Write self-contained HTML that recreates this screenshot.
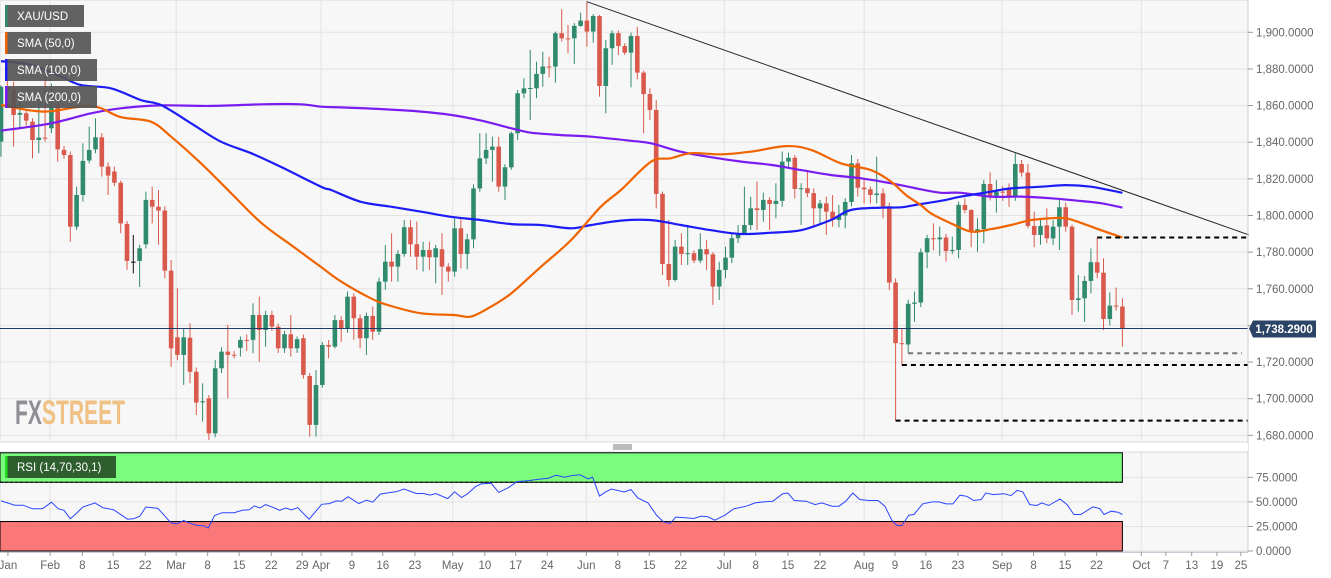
<!DOCTYPE html>
<html><head><meta charset="utf-8"><style>
html,body{margin:0;padding:0;background:#fff;}
svg{display:block;font-family:"Liberation Sans",sans-serif;}
</style></head><body>
<svg id="c" width="1331" height="578" viewBox="0 0 1331 578" xmlns="http://www.w3.org/2000/svg">
<rect x="0" y="0" width="1331" height="578" fill="#ffffff"/>
<rect x="0" y="0" width="1248" height="442" fill="#f7f7f7" stroke="#d5d9e3"/>
<rect x="0" y="452" width="1248" height="100" fill="#f7f7f7" stroke="#d5d9e3"/>
<g id="grid"></g>
<g id="rsiZones"></g>
<text x="15" y="424" font-family="'Liberation Sans Narrow','Liberation Sans',sans-serif" font-weight="bold" font-size="34" textLength="110" lengthAdjust="spacingAndGlyphs"><tspan fill="#8e9096">FX</tspan><tspan fill="#f0c185">STREET</tspan></text>
<g id="marks"></g>
<g id="overlay"></g>
<g id="axes"></g>
<g id="legend"></g>
</svg>
<script>
// ---- data ----
const opens=[1840.3,1870,1868.9,1855,1855.8,1851.2,1841.2,1842.5,1847.6,1859.4,1835.8,1833,1793.9,1811.2,1830,1836.1,1842.7,1826.7,1824,1817.9,1795.4,1774.8,1775.2,1784.3,1808.5,1804.8,1802.7,1769.9,1733.5,1723.9,1733.3,1714.7,1698,1700.2,1681.1,1716.6,1725.7,1724,1727.8,1732.1,1732.1,1745.7,1737.5,1745.7,1739.3,1727.5,1735.2,1727.5,1733,1712.4,1685.7,1707.5,1729.3,1728.4,1742.9,1738.4,1755.7,1743.9,1733,1745.2,1736.6,1763.9,1774.8,1772.1,1779,1793.6,1784.3,1777.5,1781.2,1777.2,1781.6,1772.1,1769.4,1793,1779,1787,1814.8,1831.2,1835.8,1837.6,1815.8,1826.3,1844.9,1866.7,1869.4,1869.4,1877.3,1881.3,1881.3,1899.5,1896.7,1896.7,1903.5,1906.4,1900.4,1908.9,1870.7,1891.3,1899.5,1892.5,1888.9,1898,1878,1866.3,1857.6,1811.8,1773.5,1764.8,1783,1779,1779.4,1775.4,1781.6,1778.8,1761.2,1770.3,1777,1787.6,1790.3,1794.8,1803.9,1803,1808.5,1806.3,1808,1829.4,1831.5,1814.5,1814.9,1812.2,1803.9,1806.6,1802.1,1797.6,1800,1807.4,1828.5,1815.2,1814.3,1811.2,1812.1,1805,1763.4,1730.3,1729.6,1751.8,1752.5,1779.9,1787.6,1787,1788,1780.6,1781.2,1805.8,1803,1791.2,1792.5,1817.2,1810.7,1813,1814.3,1810.3,1828.1,1823.4,1794.3,1789.4,1794.6,1787.5,1793.9,1804.5,1793.9,1753.9,1754.8,1764.3,1774.5,1768.8,1743.5,1750.8,1750.3];
const highs=[1871,1875,1873.1,1864.9,1857,1853,1864,1875.8,1872,1861,1838,1835,1815.8,1839.4,1848.5,1853,1845,1829,1826.7,1819,1797,1789.4,1784,1813,1815.8,1813.9,1805,1775.7,1760.3,1738.4,1741.2,1717,1708.4,1702,1721.1,1728,1740.3,1726,1734,1735,1752.1,1755.7,1748,1748,1741,1737,1745.7,1734,1735,1714,1715.7,1731,1732,1745.7,1745,1758.5,1757.5,1746,1747,1750.3,1766,1783.9,1790.3,1781,1797.6,1797.6,1796.7,1785.7,1785.7,1784,1790.3,1774,1798.5,1798.5,1790,1817,1844.9,1844.9,1843,1843,1828,1845.8,1868.5,1874.9,1890.4,1884,1889.4,1886.7,1900.4,1912.6,1904,1905,1910.7,1916.7,1910,1909.5,1895.8,1901,1901,1894,1899.8,1903,1879,1869.4,1863,1813,1797.6,1786.6,1790.3,1794.8,1781,1790.3,1786.6,1780,1774.8,1783,1790,1794.8,1815.8,1810.3,1818.5,1812.5,1810,1817.6,1834.9,1834.3,1833,1817.6,1824.9,1814.8,1808.5,1810.3,1811.2,1805.7,1809.4,1833,1830.8,1819.4,1815.8,1832.1,1814.8,1807,1765.7,1738.4,1754,1758.5,1782,1789.4,1795.7,1794,1790,1788.5,1807.6,1809.4,1803.5,1798.5,1819.4,1823.6,1819.4,1816,1817.6,1834,1830.3,1828.1,1802.1,1797.9,1803.9,1797.6,1808.8,1807,1795,1767.5,1767,1782,1788,1776.6,1758,1760.7,1754.8];
const lows=[1832.1,1860,1837.6,1847.6,1849,1831.2,1834,1840.3,1845,1829.4,1831,1785.7,1792.1,1807.6,1828.5,1834,1821.2,1811.2,1816,1790.3,1770.3,1768.4,1761,1782,1795.7,1784,1765.7,1717.5,1721,1707.5,1708.4,1691.1,1687.5,1677.5,1679,1714,1700.2,1722,1723,1726,1724.8,1720.2,1728.4,1737,1725,1725,1723,1725,1711,1679.3,1679.3,1706,1722,1727.5,1731,1736,1732.1,1727.5,1723.9,1732.1,1734.8,1759.4,1763.9,1763.9,1777.5,1777.5,1770.3,1769.4,1770.3,1763,1756.6,1763.9,1766.6,1771.2,1770.6,1782.1,1813,1828,1818.5,1813,1808.5,1825,1841.2,1864,1852.1,1864,1870.3,1875.4,1872.5,1895,1888.5,1882.7,1903,1892.2,1894.4,1864.9,1855.8,1882.2,1887.6,1887.6,1870,1874.3,1844.9,1852.1,1803.9,1767.5,1761.2,1763.9,1773,1773,1774,1774,1770.3,1751.2,1753.9,1765.7,1774,1785,1790,1792.1,1792.1,1796.6,1792.1,1798.5,1804.8,1826,1809.4,1794.8,1810,1793.9,1794.8,1789.4,1793.9,1793.6,1793,1805,1810.3,1806.6,1806.6,1806.6,1798.5,1759.4,1688,1718.4,1724.8,1742,1750,1771.2,1781,1778,1774.8,1779,1776.6,1801.2,1782.7,1780.2,1784.8,1808.2,1801.6,1808,1804.8,1808,1821.2,1793,1782.7,1784,1785,1784,1781.2,1791.2,1745.7,1747.5,1742,1757.5,1765.7,1737.5,1740,1748,1728.4];
const closes=[1870.3,1868,1854.9,1856,1851.8,1841.2,1842.5,1842,1859.4,1836.1,1833,1793.9,1811.2,1829.8,1835.8,1842.7,1826.7,1821.8,1817.9,1795.7,1775.2,1774.8,1782.1,1808.5,1804.8,1802.7,1769.9,1727.5,1723.9,1733.5,1714.7,1697.9,1698.6,1681.1,1716.6,1725.7,1723.9,1723.8,1732.1,1731.9,1745.7,1737.5,1745.7,1739.3,1727.5,1735.2,1727.5,1732.5,1713,1685.7,1707.5,1729.3,1728.4,1742.9,1738.4,1755.7,1743.9,1733,1745.2,1736.6,1763.9,1774.8,1772.1,1779,1793.6,1784.3,1777.5,1781.2,1777.2,1782.1,1772.1,1769.4,1793,1779,1787,1814.8,1831.2,1835.8,1837.6,1815.8,1826.3,1844.9,1866.7,1869.4,1869.6,1877.3,1881.3,1880.8,1899.5,1896.7,1896.5,1903.5,1906.4,1900.4,1908.9,1870.7,1891.3,1899.5,1892.5,1888.9,1898,1878,1866.3,1857.6,1811.8,1773.5,1764.8,1783,1779,1779.4,1775.4,1781.6,1778.8,1761.2,1770.3,1777,1787.6,1790.3,1794.8,1803.9,1803,1808.5,1806.3,1808,1829.4,1831.5,1814.5,1814.9,1812.2,1803.9,1806.6,1802.1,1797.6,1800,1807.4,1828.5,1815.2,1814.3,1811.2,1812,1805,1763.4,1730.3,1729.8,1751.8,1752.5,1779.9,1787.6,1787,1788,1780.6,1781.2,1805.8,1803,1791.2,1792.5,1817.2,1810.7,1813,1812.5,1810.3,1828.1,1823.4,1794.3,1789.4,1794.3,1787.5,1793.9,1804.5,1793.9,1753.9,1754.8,1764.3,1774.5,1768.8,1743.5,1750.8,1750.3,1738.3];
const sma50Idx=[0,6.8,14.3,19,23.8,27,31.7,36.5,41.3,46,50.8,54,58.7,61.9,66.7,71.9,74.6,77.8,81,85.7,90.5,95.2,98.4,103.2,106.3,109.5,114.3,119,124.6,128.6,133.3,138.1,141.3,143.7,146,147.6,150.8,154,157.1,160.3,163.5,166.7,169,171.4,174.6,178];
const sma50Val=[1860.3,1856.7,1859.8,1853.7,1851.2,1843,1828.6,1812.3,1796,1784,1771.9,1763.9,1754.8,1750.6,1746.6,1745.7,1744.8,1750.3,1757.5,1772,1786.6,1804.8,1813.9,1829.4,1831.2,1834,1833.4,1834.8,1837.9,1835.8,1828.5,1824.8,1818.4,1811,1805.7,1801.2,1795.7,1791.2,1792.5,1794.8,1797.5,1798.5,1798.5,1796,1792,1788];
const sma100Idx=[0,4.8,9.5,12.7,17.5,22.2,25.4,30.2,34.9,39.7,44.4,50.8,52.4,57.1,61.9,66.7,71.4,76.2,81,85.7,90.5,93.7,98.4,103.2,107.9,112.7,117.5,122.2,127,131.7,134.9,139.7,142.9,146,149.2,152.4,157.1,160.3,165.1,169,173,178];
const sma100Val=[1884.3,1882.2,1875.8,1871.2,1869.4,1863,1860.3,1850.3,1840.3,1834,1826.6,1815.7,1813.9,1807.5,1804.8,1802.1,1799.3,1797.5,1795.3,1794.8,1793,1794.8,1797.2,1797.5,1794.8,1792,1789.9,1790.6,1792,1797.5,1803,1804.3,1804.5,1806.3,1808,1810.3,1813,1814.8,1815.7,1816.6,1815.7,1812.4];
const sma200Idx=[0,7.9,14.3,19,25.4,33.3,41.3,47.6,50.8,54,60.3,66.7,71.4,76.2,81,84.1,88.9,93.7,100,103.2,107.9,112.7,117.5,122.2,127,131.7,136.5,141.3,146,149.2,152.4,157.1,161.9,166.7,171.4,174.6,178];
const sma200Val=[1846.3,1850.3,1855.8,1858.5,1860.1,1859.8,1860.7,1860.7,1859.4,1859,1858.1,1856.7,1854.9,1851.8,1847.6,1845.2,1843.9,1843,1840.8,1839.4,1834.8,1831.8,1829.4,1827.6,1824.8,1822.1,1820.3,1817.6,1814.3,1812.4,1812.4,1810.3,1810.3,1809.4,1807.9,1806.7,1804.3];
const rsiIdx=[0,2.2,3.5,5,6.6,8,9.1,10,11,11.9,13,14.9,16.2,17.9,20.1,21,22,23,24.9,27,27.9,29,30,31.2,32,32.9,33.9,35.1,37,38.3,39.4,40.2,41.1,42,43.3,44.2,45.2,46.1,47.1,48.9,50.9,52.1,53.2,54.1,55.1,56.8,58,59,60.2,61.5,62.7,64,65.9,67.1,68.1,69,70.9,72,73.1,74,75.3,76.2,77.8,79,80.6,81.9,83.8,85.3,86.9,88.1,89.4,90.7,91.9,93.2,93.9,95,96,96.9,98.9,100,101.1,102.7,104.1,105.2,106.2,107.1,108.6,110,111.1,112.2,113.3,114.9,116.3,118.3,119.7,121,122.5,124.1,124.9,125.9,127.8,129.2,130.3,131.9,133,134.1,135.2,136.3,137.8,139.2,140.3,141.4,142.2,143,144.1,144.9,146.3,147.8,148.9,150,151.1,152.2,153.3,154.4,155.6,156.3,157.5,159.2,160.3,161.3,162.2,163.3,164.4,165.2,166.3,168.1,169.2,170.3,171.4,173.3,174.4,175.1,176.2,177.3,178];
const rsiVal=[51,46.6,46.6,43,43,49.7,43,41.4,32.8,38,44.8,49,44,42,32.4,32.8,35.2,44.8,43.4,28.6,27.6,31,28.3,25.9,25.9,23.4,36.2,39,39,41.4,42,45.9,43.8,47.2,44.1,41.4,43.8,42,44.1,32.4,47.6,48.3,51,50.7,55.3,48.3,51.7,49.7,57.9,59.3,60.3,63.1,58.6,58.6,56.9,58.6,53.4,60.3,54.5,57.9,65.5,68.3,69,59.7,64.8,70.7,71.7,73.1,74.1,77.2,75.2,76.9,77.6,73.4,75.2,55.9,60.3,63.1,60.1,62.5,54,49,36.1,29.4,28,34.5,33.8,33.1,35.5,34.8,31.4,36.5,42.9,45.6,49,50,50.7,58.4,59.1,51.4,50.7,47.3,49,45.6,45.6,50.7,59.1,52.4,51.4,51.4,45.6,31.4,26,26,36.5,37.2,48,50,50,48,48,56.8,55.7,51.4,52.4,59.1,57.4,58.4,56.4,61.8,60.1,47.3,46.3,49,46.3,53,47.3,37.2,37.2,44.9,43.2,37.2,40.5,39.5,37.2];
const priceTicks=[1680,1700,1720,1740,1760,1780,1800,1820,1840,1860,1880,1900];
const rsiTicks=[0,25,50,75];
const xLabels=["Jan","Feb","8","15","22","Mar","8","15","22","29","Apr","9","16","23","May","10","17","24","Jun","8","15","22","Jul","8","15","22","Aug","9","16","23","Sep","8","15","22","Oct","7","13","19","25"];
const xLabelIdx=[1.1,7.8,12.9,17.8,22.9,27.8,32.8,37.8,42.9,47.8,50.8,55.7,60.6,65.7,71.7,76.8,81.7,86.7,92.9,97.9,102.9,107.9,114.8,119.8,124.9,130,137,141.9,146.8,151.9,158.9,163.9,168.9,173.9,181,184.9,189,193,196.8];
const monthIdx=[7.8,27.8,50.8,71.7,92.9,114.8,137,158.9,181];
const lastPrice=1738.29;
const trendIdx=[93,198.1], trendVal=[1916.7,1789.4];
const levelVal=[1788,1724.8,1718.4,1688];
const levelStart=[174,144,143,142];

// ---- scales ----
const NS="http://www.w3.org/2000/svg";
const xi=i=>1+i*6.3;
const yp=p=>32.3+(1900-p)*1.832;
const yr=v=>551-v*0.982;
function mk(tag,attrs,parent){const e=document.createElementNS(NS,tag);for(const k in attrs)e.setAttribute(k,attrs[k]);parent.appendChild(e);return e;}
const G=id=>document.getElementById(id);
const grid=G('grid'),marks=G('marks'),ov=G('overlay'),axes=G('axes'),leg=G('legend'),zones=G('rsiZones');

// grid
priceTicks.forEach(p=>{const l=mk('line',{x1:0,x2:1248,y1:yp(p),y2:yp(p),stroke:'#e3e3e3'},grid);

});
rsiTicks.forEach(v=>{const l=mk('line',{x1:0,x2:1248,y1:yr(v),y2:yr(v),stroke:'#e3e3e3'},grid);

});
monthIdx.forEach(i=>{[[0,442],[452,552]].forEach(r=>{const l=mk('line',{x1:xi(i),x2:xi(i),y1:r[0],y2:r[1],stroke:'#e3e3e3'},grid);

});});

// rsi zones
const zEnd=xi(closes.length-1);
let z=mk('rect',{x:0,y:yr(100),width:zEnd,height:yr(70)-yr(100),fill:'#7cfc7c',stroke:'#000','stroke-width':1},zones);


z=mk('rect',{x:0,y:yr(30),width:zEnd,height:yr(0)-yr(30),fill:'#fa7878',stroke:'#000','stroke-width':1},zones);


[70,30].forEach(v=>{const l=mk('line',{x1:0,x2:zEnd,y1:yr(v),y2:yr(v),stroke:'#000','stroke-dasharray':'3,2'},zones);

});

// SMA lines (smoothed Catmull-Rom)
function smooth(pts){let d='M'+pts[0][0].toFixed(1)+' '+pts[0][1].toFixed(1);
 for(let k=0;k<pts.length-1;k++){const p0=pts[k-1]||pts[k],p1=pts[k],p2=pts[k+1],p3=pts[k+2]||p2;
  const c1x=p1[0]+(p2[0]-p0[0])/6,c1y=p1[1]+(p2[1]-p0[1])/6,c2x=p2[0]-(p3[0]-p1[0])/6,c2y=p2[1]-(p3[1]-p1[1])/6;
  d+=` C${c1x.toFixed(1)} ${c1y.toFixed(1)} ${c2x.toFixed(1)} ${c2y.toFixed(1)} ${p2[0].toFixed(1)} ${p2[1].toFixed(1)}`;}
 return d;}
function sline(idx,val,col,name,w){const pts=idx.map((i,k)=>[xi(i),yp(val[k])]);
const p=mk('path',{d:smooth(pts),fill:'none',stroke:col,'stroke-width':w,'stroke-linejoin':'round'},ov);

}
sline(sma200Idx,sma200Val,'#7a1cf0','sma-200-line',2.2);
sline(sma100Idx,sma100Val,'#1c1cf5','sma-100-line',2.2);
sline(sma50Idx,sma50Val,'#f06400','sma-50-line',2.2);

// candles
for(let i=0;i<closes.length;i++){
 const o=opens[i],c=closes[i],h=highs[i],l=lows[i];
 const col=c>o?'#2f8a6e':(c<o?'#d95a4c':'#111');
 const g=mk('g',{},marks);
 
 
 const x=xi(i);
 mk('line',{x1:x,x2:x,y1:yp(h),y2:yp(l),stroke:col,'stroke-width':1},g);
 const top=yp(Math.max(o,c)),bh=Math.max(1,Math.abs(yp(o)-yp(c)));
 mk('rect',{x:x-2.3,y:top,width:4.6,height:bh,fill:col},g);
}

// trendline & levels
let t=mk('line',{x1:xi(trendIdx[0]),y1:yp(trendVal[0]),x2:xi(trendIdx[1]),y2:yp(trendVal[1]),stroke:'#222','stroke-width':1},ov);


levelVal.forEach((v,k)=>{const col=k==1?'#777':'#000';
const l=mk('line',{x1:xi(levelStart[k]),x2:k==1?1242:1248,y1:yp(v),y2:yp(v),stroke:col,'stroke-width':2,'stroke-dasharray':'5,4'},ov);

});
t=mk('line',{x1:xi(174),x2:xi(174),y1:yp(1788),y2:yp(highs[174]),stroke:'#000'},ov);


t=mk('line',{x1:0,x2:1248,y1:yp(lastPrice),y2:yp(lastPrice),stroke:'#1f3c66','stroke-width':1},ov);



// rsi line
const rp=rsiIdx.map((i,k)=>xi(i).toFixed(1)+','+yr(rsiVal[k]).toFixed(1)).join(' ');
t=mk('polyline',{points:rp,fill:'none',stroke:'#2a45ff','stroke-width':1},ov);



// axes
mk('line',{x1:1248,x2:1248,y1:0,y2:552,stroke:'#c8ccd6'},axes);
mk('line',{x1:0,x2:1248,y1:552.5,y2:552.5,stroke:'#c8ccd6'},axes);
priceTicks.forEach(p=>{mk('line',{x1:1248,x2:1253,y1:yp(p),y2:yp(p),stroke:'#999'},axes);
const tx=mk('text',{x:1256,y:yp(p)+4,'font-size':11.5,fill:'#666'},axes);tx.textContent=p.toLocaleString('en-US')+'.0000';

});
rsiTicks.forEach(v=>{mk('line',{x1:1248,x2:1253,y1:yr(v),y2:yr(v),stroke:'#999'},axes);
const tx=mk('text',{x:1256,y:yr(v)+4,'font-size':11.5,fill:'#666'},axes);tx.textContent=v.toFixed(4);

});
xLabels.forEach((s,k)=>{const x=xi(xLabelIdx[k]);
mk('line',{x1:x,x2:x,y1:552,y2:556,stroke:'#999'},axes);
const tx=mk('text',{x:x,y:569,'font-size':11.5,fill:'#666','text-anchor':'middle'},axes);tx.textContent=s;

});
const ly=yp(lastPrice);
let pl=mk('path',{d:`M1249 ${ly} L1253 ${ly-8} L1316 ${ly-8} L1316 ${ly+9} L1253 ${ly+9} Z`,fill:'#2c4466'},axes);


pl=mk('text',{x:1284,y:ly+4.5,'font-size':11.5,'font-weight':'bold',fill:'#fff','text-anchor':'middle'},axes);pl.textContent='1,738.2900';


mk('rect',{x:0,y:443,width:1248,height:8,fill:'#fff'},axes);
[445,447,449].forEach(y=>mk('line',{x1:613,x2:632,y1:y,y2:y,stroke:'#777'},axes));

// legends
const legItems=[["XAU/USD",84,5,'#2f8a6e'],["SMA (50,0)",91,32,'#f06400'],["SMA (100,0)",97,59,'#1c1cf5'],["SMA (200,0)",97,86,'#7a1cf0']];
legItems.forEach(it=>{const g=mk('g',{},leg);


mk('rect',{x:5,y:it[2],width:it[1]-5,height:22,fill:'#555','fill-opacity':0.92},g);
mk('rect',{x:5,y:it[2],width:2.5,height:22,fill:it[3]},g);
const tx=mk('text',{x:17,y:it[2]+15,'font-size':11.5,fill:'#fff'},g);tx.textContent=it[0];});
const rg=mk('g',{},leg);


mk('rect',{x:5,y:456,width:111,height:22,fill:'#2e5e2e'},rg);
mk('rect',{x:5,y:456,width:2.5,height:22,fill:'#22dd22'},rg);
const rt=mk('text',{x:17,y:471,'font-size':11.5,fill:'#fff'},rg);rt.textContent='RSI (14,70,30,1)';
</script>
</body></html>
